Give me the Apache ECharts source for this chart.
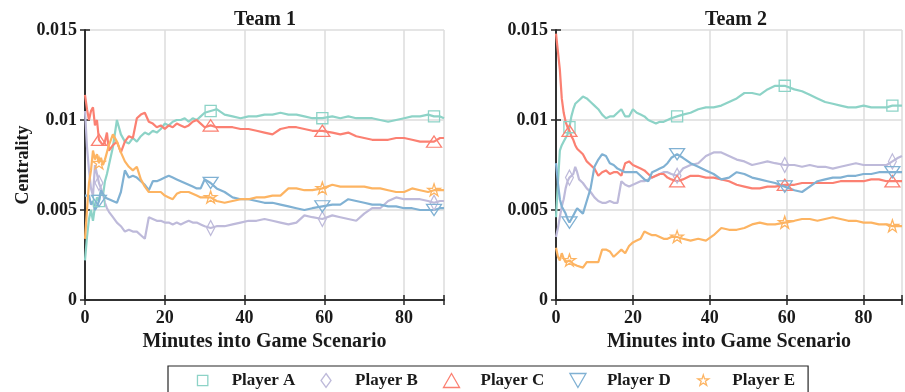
<!DOCTYPE html>
<html>
<head>
<meta charset="utf-8">
<script src="https://cdn.jsdelivr.net/npm/echarts@6/dist/echarts.min.js"></script>
<style>
  html, body { margin: 0; padding: 0; background: #fff; }
  #chart { width: 905px; height: 392px; }
</style>
</head>
<body>
<div id="chart"></div>
<script>
// Minutes at which centrality was sampled (shared by every series)
const minutes = [
  0, 0.5, 1, 1.5, 2, 2.5, 3, 3.5, 4, 4.5, 5, 5.5, 6,
  7, 8, 9, 10, 11, 12, 13, 14, 15, 16, 17, 18, 19, 20, 21, 22, 23, 24, 25, 26, 27, 28, 29, 30,
  31.5,
  33, 35, 37, 39, 41, 43, 45, 47, 49, 51, 53, 55, 57,
  59.5,
  62, 64, 66, 68, 70, 72, 74, 76, 78, 80, 82, 84, 86,
  87.5, 89, 90
];
// Minutes where a player's marker is drawn
const markerMinutes = [3.5, 31.5, 59.5, 87.5];

const players = ['Player A', 'Player B', 'Player C', 'Player D', 'Player E'];
const teams = ['Team 1', 'Team 2'];
const xTicks = [0, 20, 40, 60, 80];

// Team 1
const team1A = [
  0.0022,0.0035,0.0045,0.0050,0.0044,0.0052,0.0057,0.0055,0.0060,0.0058,0.0066,0.0070,0.0075,
  0.0085,0.0100,0.0092,0.0088,0.0087,0.0090,0.0088,0.0091,0.0093,0.0092,0.0094,0.0093,0.0095,0.0098,0.0097,0.0099,0.0100,0.0100,0.0101,0.0099,0.0101,0.0100,0.0102,0.0104,
  0.0105,
  0.0106,0.0103,0.0102,0.0101,0.0102,0.0102,0.0103,0.0103,0.0104,0.0103,0.0103,0.0102,0.0101,
  0.0101,
  0.0102,0.0101,0.0102,0.0101,0.0101,0.0101,0.0100,0.0099,0.0100,0.0101,0.0102,0.0102,0.0103,
  0.0102,0.0102,0.0101
];
const team1B = [
  0.0105,0.0085,0.0072,0.0062,0.0058,0.0075,0.0070,0.0065,0.0062,0.0059,0.0054,0.0051,0.0049,
  0.0046,0.0043,0.0041,0.0038,0.0039,0.0038,0.0038,0.0036,0.0034,0.0046,0.0045,0.0044,0.0044,0.0043,0.0043,0.0042,0.0043,0.0042,0.0043,0.0044,0.0043,0.0043,0.0042,0.0041,
  0.0040,
  0.0041,0.0041,0.0042,0.0043,0.0044,0.0044,0.0045,0.0044,0.0043,0.0042,0.0043,0.0047,0.0046,
  0.0045,
  0.0047,0.0046,0.0045,0.0044,0.0048,0.0051,0.0051,0.0055,0.0057,0.0056,0.0056,0.0056,0.0055,
  0.0054,0.0055,0.0055
];
const team1C = [
  0.0114,0.0106,0.0100,0.0105,0.0107,0.0097,0.0100,0.0089,0.0090,0.0086,0.0088,0.0093,0.0083,
  0.0086,0.0088,0.0082,0.0088,0.0091,0.0090,0.0101,0.0103,0.0104,0.0099,0.0098,0.0096,0.0097,0.0095,0.0097,0.0096,0.0098,0.0097,0.0096,0.0097,0.0099,0.0100,0.0098,0.0096,
  0.0097,
  0.0096,0.0096,0.0096,0.0095,0.0095,0.0094,0.0093,0.0092,0.0095,0.0096,0.0096,0.0095,0.0094,
  0.0094,
  0.0093,0.0092,0.0093,0.0091,0.0090,0.0089,0.0089,0.0089,0.0090,0.0090,0.0089,0.0088,0.0088,
  0.0088,0.0090,0.0090
];
const team1D = [
  0.0058,0.0057,0.0058,0.0053,0.0055,0.0050,0.0052,0.0055,0.0061,0.0059,0.0057,0.0058,0.0056,
  0.0055,0.0054,0.0060,0.0072,0.0068,0.0069,0.0068,0.0066,0.0064,0.0061,0.0066,0.0066,0.0067,0.0068,0.0069,0.0068,0.0067,0.0066,0.0065,0.0064,0.0063,0.0062,0.0062,0.0067,
  0.0065,
  0.0062,0.0060,0.0057,0.0056,0.0056,0.0055,0.0054,0.0054,0.0053,0.0052,0.0051,0.0050,0.0051,
  0.0052,
  0.0053,0.0053,0.0056,0.0055,0.0054,0.0053,0.0053,0.0052,0.0052,0.0051,0.0051,0.0050,0.0050,
  0.0050,0.0051,0.0051
];
const team1E = [
  0.0034,0.0050,0.0065,0.0072,0.0083,0.0078,0.0081,0.0076,0.0079,0.0075,0.0078,0.0082,0.0086,
  0.0092,0.0088,0.0082,0.0077,0.0074,0.0072,0.0074,0.0067,0.0063,0.0060,0.0060,0.0060,0.0060,0.0058,0.0057,0.0056,0.0059,0.0060,0.0060,0.0060,0.0059,0.0058,0.0057,0.0057,
  0.0057,
  0.0055,0.0054,0.0055,0.0056,0.0056,0.0057,0.0057,0.0058,0.0058,0.0062,0.0062,0.0061,0.0061,
  0.0062,
  0.0064,0.0063,0.0063,0.0063,0.0063,0.0062,0.0062,0.0061,0.0060,0.0060,0.0062,0.0061,0.0060,
  0.0061,0.0061,0.0061
];

// Team 2
const team2A = [
  0.0046,0.0065,0.0083,0.0086,0.0088,0.0090,0.0092,0.0096,0.0102,0.0106,0.0109,0.0110,0.0111,
  0.0113,0.0112,0.0110,0.0108,0.0106,0.0103,0.0101,0.0102,0.0102,0.0104,0.0106,0.0102,0.0102,0.0106,0.0104,0.0103,0.0102,0.0100,0.0099,0.0098,0.0099,0.0099,0.0100,0.0101,
  0.0102,
  0.0103,0.0104,0.0106,0.0107,0.0107,0.0108,0.0110,0.0112,0.0115,0.0115,0.0114,0.0117,0.0119,
  0.0119,
  0.0117,0.0116,0.0114,0.0112,0.0110,0.0109,0.0108,0.0107,0.0107,0.0108,0.0107,0.0107,0.0107,
  0.0108,0.0108,0.0108
];
const team2B = [
  0.0035,0.0040,0.0046,0.0052,0.0056,0.0062,0.0066,0.0068,0.0069,0.0070,0.0074,0.0071,0.0067,
  0.0065,0.0062,0.0060,0.0057,0.0055,0.0054,0.0054,0.0055,0.0054,0.0054,0.0066,0.0064,0.0063,0.0064,0.0065,0.0066,0.0066,0.0067,0.0068,0.0069,0.0070,0.0071,0.0071,0.0070,
  0.0069,
  0.0073,0.0075,0.0076,0.0080,0.0082,0.0082,0.0080,0.0078,0.0077,0.0075,0.0076,0.0077,0.0076,
  0.0075,
  0.0075,0.0074,0.0075,0.0074,0.0074,0.0073,0.0074,0.0075,0.0076,0.0075,0.0075,0.0075,0.0075,
  0.0077,0.0079,0.0080
];
const team2C = [
  0.0148,0.0138,0.0128,0.0112,0.0104,0.0099,0.0096,0.0094,0.0091,0.0089,0.0086,0.0084,0.0083,
  0.0081,0.0077,0.0075,0.0073,0.0069,0.0071,0.0072,0.0070,0.0071,0.0071,0.0069,0.0076,0.0077,0.0075,0.0074,0.0073,0.0072,0.0070,0.0068,0.0069,0.0070,0.0070,0.0068,0.0067,
  0.0066,
  0.0067,0.0069,0.0069,0.0068,0.0068,0.0067,0.0066,0.0064,0.0063,0.0062,0.0062,0.0063,0.0063,
  0.0064,
  0.0064,0.0065,0.0065,0.0065,0.0065,0.0065,0.0066,0.0066,0.0066,0.0066,0.0067,0.0067,0.0066,
  0.0066,0.0066,0.0066
];
const team2D = [
  0.0076,0.0065,0.0056,0.0052,0.0050,0.0048,0.0045,0.0043,0.0045,0.0047,0.0049,0.0051,0.0052,
  0.0048,0.0055,0.0062,0.0074,0.0078,0.0081,0.0080,0.0076,0.0075,0.0073,0.0072,0.0071,0.0071,0.0071,0.0071,0.0069,0.0067,0.0066,0.0071,0.0072,0.0073,0.0074,0.0076,0.0079,
  0.0081,
  0.0079,0.0076,0.0074,0.0072,0.0070,0.0067,0.0068,0.0071,0.0070,0.0068,0.0067,0.0066,0.0065,
  0.0063,
  0.0061,0.0060,0.0063,0.0066,0.0067,0.0068,0.0068,0.0069,0.0069,0.0070,0.0070,0.0071,0.0071,
  0.0071,0.0071,0.0071
];
const team2E = [
  0.0029,0.0024,0.0022,0.0026,0.0023,0.0021,0.0022,0.0022,0.0021,0.0020,0.0019,0.0019,0.0018,
  0.0018,0.0021,0.0021,0.0021,0.0021,0.0028,0.0028,0.0027,0.0024,0.0026,0.0028,0.0026,0.0030,0.0032,0.0033,0.0034,0.0038,0.0037,0.0036,0.0036,0.0035,0.0034,0.0034,0.0035,
  0.0035,
  0.0034,0.0033,0.0034,0.0033,0.0036,0.0040,0.0039,0.0039,0.0040,0.0042,0.0043,0.0042,0.0042,
  0.0043,
  0.0044,0.0045,0.0045,0.0044,0.0045,0.0046,0.0045,0.0044,0.0044,0.0043,0.0043,0.0042,0.0042,
  0.0041,0.0041,0.0041
];

const teamValues = [
  [team1A, team1B, team1C, team1D, team1E],
  [team2A, team2B, team2C, team2D, team2E]
];

const colors = ['#8dd3c7', '#bebada', '#fb8072', '#80b1d3', '#fdb462'];
// Marker outlines; zero-length segments pad the bounding box so the shapes keep their relative sizes
const SQUARE = 'path://M0,0 L0,0 M100,100 L100,100 M13,13 L87,13 L87,87 L13,87 Z';
const DIAMOND = 'path://M50,0 L100,70 L50,140 L0,70 Z';
const TRI_UP = 'path://M50,0 L100,87 L0,87 Z';
const TRI_DOWN = 'path://M0,0 L100,0 L50,87 Z';
const STAR = 'path://M-10,-10 L-10,-10 M110,110 L110,110 M50,2 L61,36 L97,36 L68,57 L79,92 L50,71 L21,92 L32,57 L3,36 L39,36 Z';
const symbols = [SQUARE, DIAMOND, TRI_UP, TRI_DOWN, STAR];
const symbolSizes = [15, [11, 15], [15, 13], [15, 13], 16];

const FONT = 'Liberation Serif';
const AXIS_COLOR = '#262626';
const GRID_COLOR = '#dcdcdc';

const grids = [
  { left: 85, top: 30, width: 359, height: 270 },
  { left: 556, top: 30, width: 359, height: 270 }
];

const xAxes = [];
const yAxes = [];
grids.forEach((g, gi) => {
  // bottom axis with labels and grid lines
  xAxes.push({
    type: 'value', gridIndex: gi, min: 0, max: 90, interval: 20, position: 'bottom',
    name: 'Minutes into Game Scenario', nameLocation: 'middle', nameGap: 31,
    nameTextStyle: { fontFamily: FONT, fontWeight: 'bold', fontSize: 20, color: '#1a1a1a' },
    axisLine: { lineStyle: { color: AXIS_COLOR, width: 1.5 } },
    axisTick: { inside: true, length: 5, lineStyle: { color: AXIS_COLOR, width: 1.5 } },
    axisLabel: {
      margin: 9, fontFamily: FONT, fontWeight: 'bold', fontSize: 18, color: '#1a1a1a',
      formatter: v => (xTicks.includes(v) ? String(v) : '')
    },
    splitLine: { show: true, lineStyle: { color: GRID_COLOR, width: 1.5 } }
  });
  // top edge of the frame
  xAxes.push({
    type: 'value', gridIndex: gi, min: 0, max: 90, interval: 20, position: 'top',
    axisLine: { show: true, lineStyle: { color: AXIS_COLOR, width: 1.5 } },
    axisTick: { show: true, inside: true, length: 5, lineStyle: { color: AXIS_COLOR, width: 1.5 } },
    axisLabel: { show: false }, splitLine: { show: false }
  });
  yAxes.push({
    type: 'value', gridIndex: gi, min: 0, max: 0.015, interval: 0.005, position: 'left',
    name: gi === 0 ? 'Centrality' : '', nameLocation: 'middle', nameGap: 53,
    nameTextStyle: { fontFamily: FONT, fontWeight: 'bold', fontSize: 18, color: '#1a1a1a' },
    axisLine: { show: true, lineStyle: { color: AXIS_COLOR, width: 1.5 } },
    axisTick: { show: true, inside: true, length: 5, lineStyle: { color: AXIS_COLOR, width: 1.5 } },
    axisLabel: {
      margin: 8, fontFamily: FONT, fontWeight: 'bold', fontSize: 18, color: '#1a1a1a',
      formatter: v => String(+v.toFixed(3))
    },
    splitLine: { show: true, lineStyle: { color: GRID_COLOR, width: 1.5 } }
  });
  // right edge of the frame
  yAxes.push({
    type: 'value', gridIndex: gi, min: 0, max: 0.015, interval: 0.005, position: 'right',
    axisLine: { show: true, lineStyle: { color: AXIS_COLOR, width: 1.5 } },
    axisTick: { show: true, inside: true, length: 5, lineStyle: { color: AXIS_COLOR, width: 1.5 } },
    axisLabel: { show: false }, splitLine: { show: false }
  });
});

const series = [];
teamValues.forEach((vals, ti) => {
  vals.forEach((arr, pi) => {
    series.push({
      type: 'line',
      name: players[pi],
      xAxisIndex: ti * 2,
      yAxisIndex: ti * 2,
      data: minutes.map((m, i) => [m, arr[i]]),
      showSymbol: true,
      showAllSymbol: true,
      symbol: symbols[pi],
      symbolKeepAspect: true,
      symbolSize: val => (markerMinutes.includes(val[0]) ? symbolSizes[pi] : 0),
      lineStyle: { color: colors[pi], width: 2.2 },
      itemStyle: { color: 'rgba(0,0,0,0)', borderColor: colors[pi], borderWidth: 1.3 },
      emphasis: { disabled: true },
      z: 3
    });
  });
});

const chart = echarts.init(document.getElementById('chart'), null, { renderer: 'canvas' });
chart.setOption({
  animation: false,
  backgroundColor: '#ffffff',
  title: teams.map((t, i) => ({
    text: t,
    left: grids[i].left + 175,
    top: 5,
    textAlign: 'center',
    textStyle: { fontFamily: FONT, fontWeight: 'bold', fontSize: 20, color: '#1a1a1a' }
  })),
  legend: {
    left: 168, top: 366,
    orient: 'horizontal',
    padding: [6, 13, 8, 27],
    itemWidth: 48, itemHeight: 14, itemGap: 25,
    symbolKeepAspect: true,
    borderColor: AXIS_COLOR, borderWidth: 1.2,
    selectedMode: false,
    textStyle: { fontFamily: FONT, fontWeight: 'bold', fontSize: 17, color: '#1a1a1a' },
    data: players.map((p, i) => ({
      name: p,
      icon: symbols[i],
      itemStyle: { color: 'rgba(0,0,0,0)', borderColor: colors[i], borderWidth: 1.3 }
    }))
  },
  grid: grids,
  xAxis: xAxes,
  yAxis: yAxes,
  series: series
});
</script>
</body>
</html>
